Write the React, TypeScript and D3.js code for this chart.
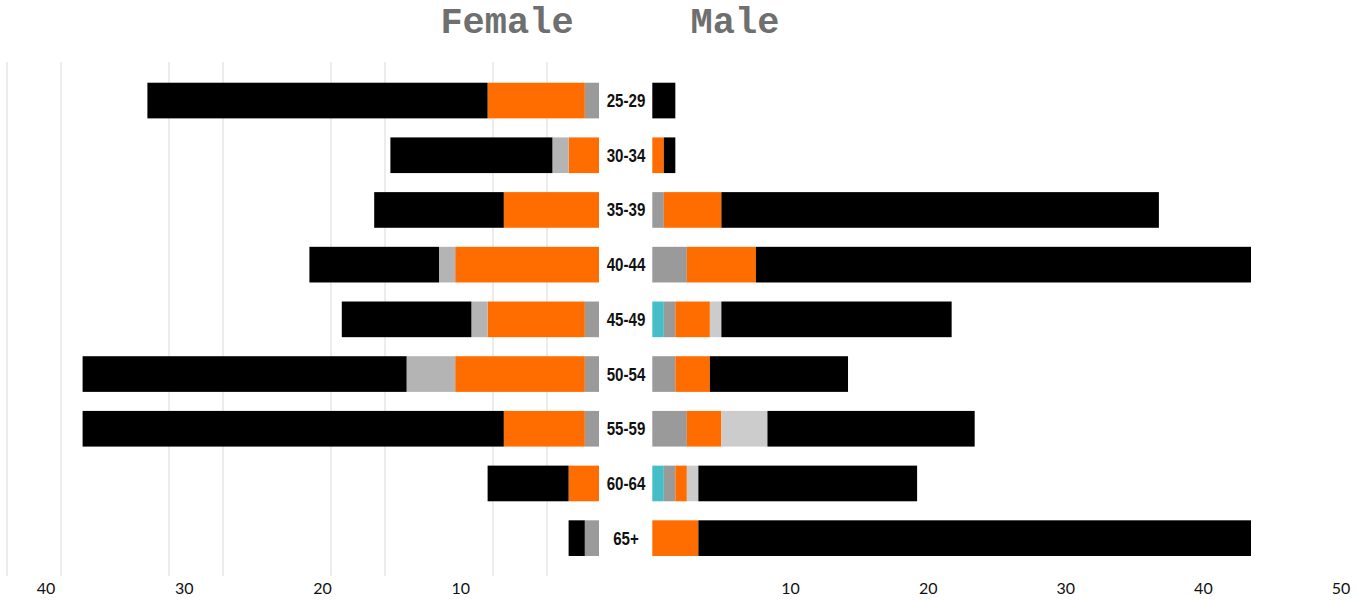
import React from "react";
import * as d3 from "d3";

// ---- data (counts per age group, stacked from the centre outward) ----
const ages = ["25-29", "30-34", "35-39", "40-44", "45-49", "50-54", "55-59", "60-64", "65+"];
const seriesKeys = ["teal", "gray", "orange", "light", "black"];

const femaleTeal = [0, 0, 0, 0, 0, 0, 0, 0, 0];
const femaleGray = [1, 0, 0, 0, 1, 1, 1, 0, 1];
const femaleOrange = [6, 2, 6, 9, 6, 8, 5, 2, 0];
const femaleLight = [0, 1, 0, 1, 1, 3, 0, 0, 0];
const femaleBlack = [21, 10, 8, 8, 8, 20, 26, 5, 1];

const maleTeal = [0, 0, 0, 0, 1, 0, 0, 1, 0];
const maleGray = [0, 0, 1, 3, 1, 2, 3, 1, 0];
const maleOrange = [0, 1, 5, 6, 3, 3, 3, 1, 4];
const maleLight = [0, 0, 0, 0, 1, 0, 4, 1, 0];
const maleBlack = [2, 1, 38, 43, 20, 12, 18, 19, 48];

const femaleTicks = [10, 20, 30, 40];
const maleTicks = [10, 20, 30, 40, 50];
const gridSteps = [1, 2, 4, 5, 7, 8, 10, 11];

// ---- styles ----
const femaleColors: Record<string, string> = {
  teal: "#45bec8",
  gray: "#9a9a9a",
  orange: "#ff6d00",
  light: "#b4b4b4",
  black: "#000000",
};
const maleColors: Record<string, string> = {
  teal: "#45bec8",
  gray: "#9a9a9a",
  orange: "#ff6d00",
  light: "#cccccc",
  black: "#000000",
};

const W = 1367;
const H = 600;
const FEMALE_ZERO = 599;
const MALE_ZERO = 653;

function buildRows(cols: number[][]) {
  return ages.map((age, i) => {
    const row: any = { age };
    seriesKeys.forEach((k, j) => (row[k] = cols[j][i]));
    return row;
  });
}

const femaleRows = buildRows([femaleTeal, femaleGray, femaleOrange, femaleLight, femaleBlack]);
const maleRows = buildRows([maleTeal, maleGray, maleOrange, maleLight, maleBlack]);

export default function App() {
  const stack = d3.stack<any>().keys(seriesKeys);
  const fStack = stack(femaleRows);
  const mStack = stack(maleRows);

  const fMax = d3.max(femaleRows, (r: any) => d3.sum(seriesKeys, (k) => r[k])) as number;
  const mMax = d3.max(maleRows, (r: any) => d3.sum(seriesKeys, (k) => r[k])) as number;

  const xF = d3.scaleLinear().domain([0, fMax]).range([FEMALE_ZERO + 2, 82.6]);
  const xM = d3.scaleLinear().domain([0, mMax]).range([MALE_ZERO - 0.7, 1251]);

  const axF = d3.scaleLinear().domain([0, 40]).range([FEMALE_ZERO, 46]);
  const axM = d3.scaleLinear().domain([0, 50]).range([MALE_ZERO, 1341]);

  const grid = d3.scaleLinear().domain([0, 11]).range([601, 7]);

  const y = d3
    .scaleBand<string>()
    .domain(ages)
    .range([73.2, 565.5])
    .paddingInner(0.348)
    .paddingOuter(0.174);

  return (
    <div style={{ position: "absolute", left: 0, top: 0 }}>
      <svg width={W} height={H} style={{ display: "block", background: "#fff" }}>
        <defs>
          <clipPath id="femaleClip">
            <rect x={0} y={0} width={FEMALE_ZERO} height={H} />
          </clipPath>
        </defs>
        {/* gridlines */}
        <g>
          {gridSteps.map((s) => (
            <line
              key={s}
              x1={grid(s)}
              x2={grid(s)}
              y1={62}
              y2={576}
              stroke="#e6e6e6"
              strokeWidth={1.5}
            />
          ))}
        </g>

        {/* female bars */}
        <g clipPath="url(#femaleClip)">
          {fStack.map((layer) =>
            layer.map((d, i) => {
              const w = xF(d[0]) - xF(d[1]);
              if (w <= 0) return null;
              return (
                <rect
                  key={layer.key + i}
                  x={xF(d[1])}
                  y={y(ages[i])}
                  width={w}
                  height={y.bandwidth()}
                  fill={femaleColors[layer.key]}
                />
              );
            })
          )}
        </g>

        {/* male bars */}
        <g>
          {mStack.map((layer) =>
            layer.map((d, i) => {
              const w = xM(d[1]) - xM(d[0]);
              if (w <= 0) return null;
              return (
                <rect
                  key={layer.key + i}
                  x={xM(d[0])}
                  y={y(ages[i])}
                  width={w}
                  height={y.bandwidth()}
                  fill={maleColors[layer.key]}
                />
              );
            })
          )}
        </g>

        {/* age labels */}
        <g>
          {ages.map((a) => (
            <text
              key={a}
              transform={`translate(${(FEMALE_ZERO + MALE_ZERO) / 2},${(y(a) as number) + y.bandwidth() / 2 + 6.5}) scale(0.84,1)`}
              textAnchor="middle"
              fontFamily="'Liberation Sans Narrow', 'Arial Narrow', 'Liberation Sans', sans-serif"
              fontWeight="bold"
              fontSize={18}
              fill="#111"
            >
              {a}
            </text>
          ))}
        </g>

        {/* bottom tick labels */}
        <g fontFamily="Lato, 'Liberation Sans', sans-serif" fontSize={16} fill="#111" textAnchor="middle">
          {femaleTicks.map((t) => (
            <text key={"f" + t} x={axF(t)} y={594}>
              {t}
            </text>
          ))}
          {maleTicks.map((t) => (
            <text key={"m" + t} x={axM(t)} y={594}>
              {t}
            </text>
          ))}
        </g>

        {/* titles */}
        <g fontFamily="'Liberation Mono', 'Courier New', monospace" fontWeight="bold" fontSize={37} fill="#6f6f6f" textAnchor="middle">
          <text x={507} y={33}>
            Female
          </text>
          <text x={735} y={33}>
            Male
          </text>
        </g>
      </svg>
    </div>
  );
}
